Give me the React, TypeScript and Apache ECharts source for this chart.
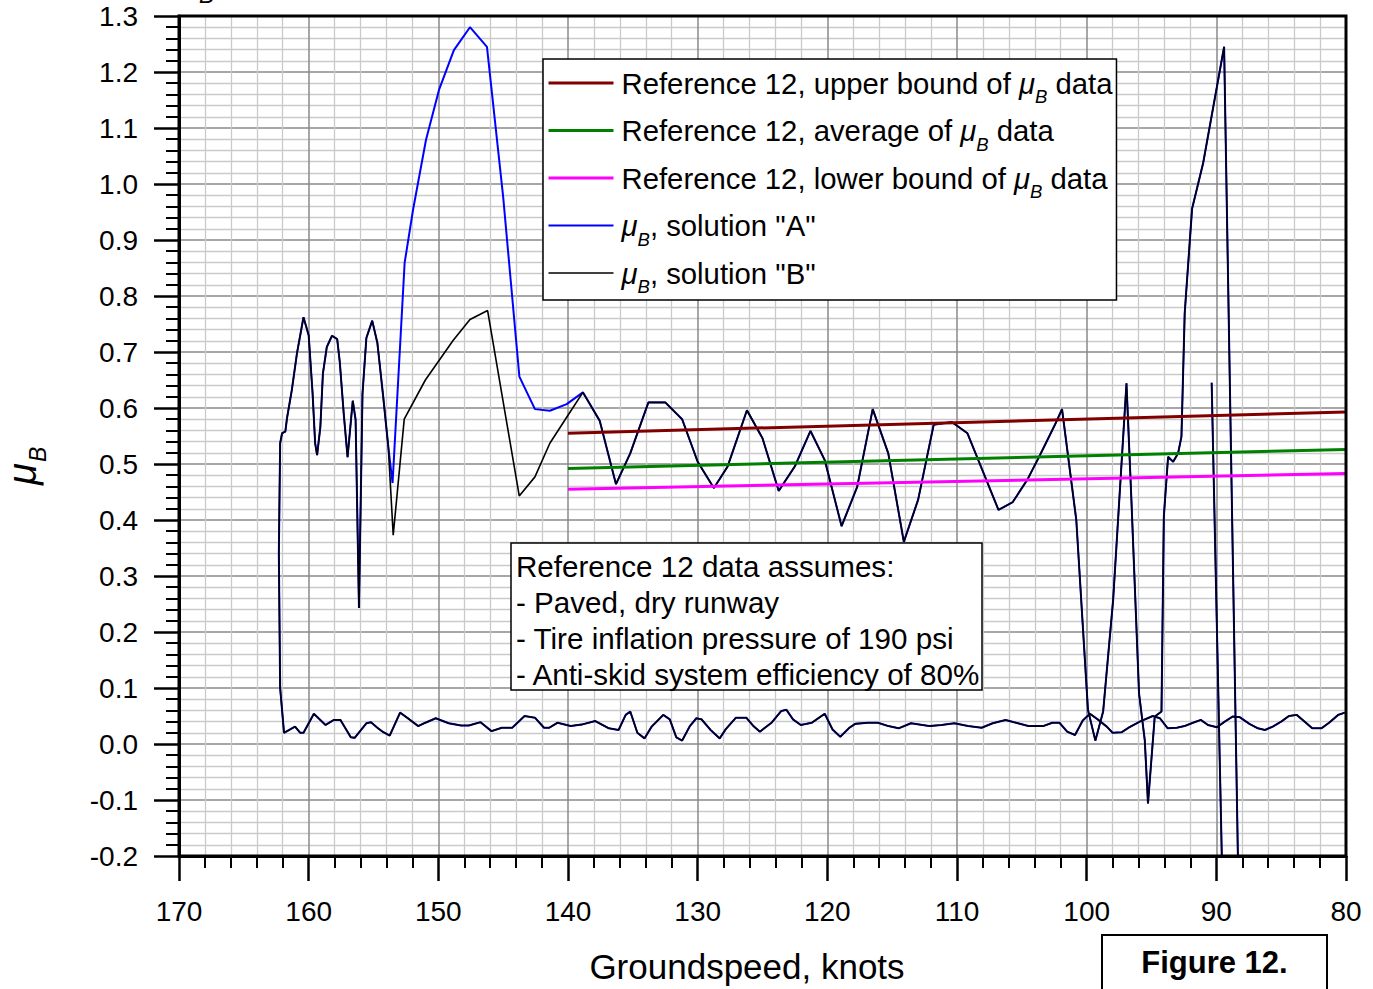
import React, { useEffect, useRef } from "react";
import * as echarts from "echarts";

const FONT = "'Liberation Sans', Arial, Helvetica, sans-serif";
const WIDTH = 1373;
const HEIGHT = 989;

// Plot frame (pixels)
const PLOT = { left: 179, top: 16, width: 1167, height: 840 };

// Axis ranges
const SPEED_MIN = 80;
const SPEED_MAX = 170;
const SPEED_STEP = 10;
const MU_MIN = -0.2;
const MU_MAX = 1.3;
const MU_STEP = 0.1;

// Series names
const NAME_UPPER = "Reference 12, upper bound of μB data";
const NAME_AVERAGE = "Reference 12, average of μB data";
const NAME_LOWER = "Reference 12, lower bound of μB data";
const NAME_A = 'μB, solution "A"';
const NAME_B = 'μB, solution "B"';

// Reference 12 braking friction bounds vs groundspeed
const refSpeed = [140, 80];
const refUpper = [0.555, 0.593];
const refAverage = [0.492, 0.526];
const refLower = [0.455, 0.483];

// Ground roll before brake application: [groundspeed, muB]
const rollPoints: [number, number][] = [
  [80.1, 0.056], [80.6, 0.052], [81.3, 0.038], [81.9, 0.028], [82.6, 0.028],
  [83.2, 0.04], [83.8, 0.052], [84.4, 0.05], [85.0, 0.04], [85.65, 0.031],
  [86.25, 0.025], [86.8, 0.028], [87.45, 0.036], [88.2, 0.048], [88.75, 0.049],
  [89.35, 0.04], [89.95, 0.03], [90.65, 0.034], [91.2, 0.043], [91.8, 0.038],
  [92.45, 0.032], [93.05, 0.029], [93.75, 0.028], [94.35, 0.046], [94.9, 0.05],
  [95.9, 0.04], [96.7, 0.03], [97.3, 0.021], [98.0, 0.02], [98.45, 0.031],
  [99.15, 0.044], [99.75, 0.054], [100.3, 0.042], [100.9, 0.016], [101.5, 0.022],
  [102.1, 0.038], [102.65, 0.038], [103.35, 0.032], [104.5, 0.032], [105.3, 0.037],
  [106.25, 0.043], [107.25, 0.037], [108.1, 0.029], [109.15, 0.032], [110.2, 0.037],
  [111.2, 0.034], [112.15, 0.032], [113.55, 0.037], [114.5, 0.028], [115.3, 0.032],
  [116.1, 0.038], [116.85, 0.038], [117.85, 0.036], [118.3, 0.029], [119.0, 0.013],
  [119.6, 0.026], [120.2, 0.054], [121.2, 0.038], [122.05, 0.034], [122.65, 0.044],
  [123.15, 0.061], [123.55, 0.059], [124.3, 0.038], [125.2, 0.022], [125.7, 0.032],
  [126.25, 0.047], [127.05, 0.047], [127.85, 0.026], [128.3, 0.01], [129.0, 0.025],
  [129.7, 0.044], [130.1, 0.046], [130.6, 0.032], [131.2, 0.006], [131.65, 0.012],
  [132.15, 0.044], [132.65, 0.052], [133.55, 0.031], [134.1, 0.01], [134.65, 0.02],
  [135.2, 0.058], [135.55, 0.052], [136.1, 0.025], [136.85, 0.028], [137.9, 0.041],
  [138.9, 0.035], [139.8, 0.032], [140.8, 0.038], [141.45, 0.029], [141.85, 0.029],
  [142.55, 0.047], [143.35, 0.05], [144.3, 0.029], [145.1, 0.029], [145.9, 0.023],
  [146.75, 0.039], [147.65, 0.033], [148.25, 0.033], [149.2, 0.037], [150.2, 0.046],
  [151.0, 0.038], [151.55, 0.032], [152.35, 0.046], [152.95, 0.056], [153.75, 0.015],
  [154.3, 0.022], [154.7, 0.029], [155.2, 0.039], [155.55, 0.037], [156.45, 0.011],
  [156.75, 0.012], [157.55, 0.043], [158.05, 0.043], [158.7, 0.034], [159.6, 0.054],
  [160.4, 0.02], [160.65, 0.02], [161.05, 0.031], [161.9, 0.02],
];

// Braking, first part (both solutions)
const brakeStartPoints: [number, number][] = [
  [162.2, 0.1], [162.3, 0.34], [162.2, 0.537], [162.05, 0.555], [161.8, 0.558],
  [161.67, 0.582], [161.3, 0.632], [160.9, 0.698], [160.4, 0.762], [160.0, 0.73],
  [159.7, 0.627], [159.5, 0.537], [159.35, 0.516], [159.1, 0.566], [158.9, 0.662],
  [158.6, 0.709], [158.2, 0.729], [157.8, 0.723], [157.6, 0.682], [157.3, 0.591],
  [157.0, 0.512], [156.6, 0.613], [156.38, 0.579], [156.12, 0.243], [155.85, 0.625],
  [155.55, 0.725], [155.1, 0.756], [154.7, 0.716], [154.25, 0.62], [153.86, 0.531],
];

// Braking, middle part where the two solutions differ
const solutionAMidPoints: [number, number][] = [
  [153.53, 0.466], [152.6, 0.859], [151.95, 0.954], [150.95, 1.079], [149.95, 1.168],
  [148.8, 1.239], [147.56, 1.28], [146.25, 1.245], [145.0, 0.977], [143.75, 0.656],
  [142.55, 0.598], [141.4, 0.595], [140.1, 0.607],
];
const solutionBMidPoints: [number, number][] = [
  [153.48, 0.373], [153.17, 0.448], [152.63, 0.58], [151.0, 0.65], [150.0, 0.683],
  [148.85, 0.721], [147.56, 0.758], [146.2, 0.774], [143.76, 0.443], [142.55, 0.477],
  [141.4, 0.537], [140.0, 0.587],
];

// Braking, last part (both solutions)
const brakeEndPoints: [number, number][] = [
  [138.85, 0.628], [137.55, 0.577], [136.3, 0.464], [135.2, 0.519], [133.8, 0.61],
  [132.5, 0.61], [131.2, 0.58], [130.0, 0.504], [128.75, 0.457], [127.7, 0.495],
  [126.2, 0.596], [125.0, 0.546], [123.75, 0.452], [122.5, 0.496], [121.3, 0.559],
  [120.2, 0.507], [118.9, 0.389], [117.7, 0.459], [116.5, 0.598], [115.3, 0.519],
  [114.1, 0.361], [113.0, 0.436], [111.8, 0.57], [110.4, 0.575], [109.2, 0.555],
  [106.8, 0.418], [105.7, 0.432], [104.55, 0.473], [103.6, 0.516], [102.45, 0.57],
  [101.9, 0.598], [100.8, 0.4], [99.9, 0.061], [99.33, 0.006], [98.73, 0.058],
  [97.96, 0.257], [96.93, 0.644], [96.55, 0.436], [95.96, 0.09], [95.52, 0.007],
  [95.27, -0.106], [94.75, 0.049], [94.23, 0.058], [94.05, 0.406], [93.72, 0.513],
  [93.33, 0.504], [92.95, 0.519], [92.69, 0.549], [92.44, 0.769], [91.87, 0.956],
  [91.02, 1.037], [89.4, 1.245], [87.75, -1.0], [88.84, -1.0], [90.36, 0.645],
];

// Note box
const NOTE_LINES = [
  "Reference 12 data assumes:",
  "- Paved, dry runway",
  "- Tire inflation pressure of 190 psi",
  "- Anti-skid system efficiency of 80%",
];
const X_TITLE = "Groundspeed, knots";
const FIGURE_LABEL = "Figure 12.";
const MU = "μ";
const MU_SUB = "B";

const zip = (xs: number[], ys: number[]) => xs.map((x, i) => [x, ys[i]]);

// μ followed by an italic subscript B, as rich text; the subscript sits at the
// bottom of a tall line box, which drops it below the main baseline
const muRichStyles = (size: number, subSize: number, lineH: number) => ({
  mu: { fontStyle: "italic", fontSize: size, fontFamily: FONT, lineHeight: lineH, color: "#000" },
  sub: {
    fontStyle: "italic",
    fontSize: subSize,
    fontFamily: FONT,
    verticalAlign: "bottom",
    color: "#000",
  },
});
const richMu = (s: string) => s.replace(/μB/g, "{mu|μ}{sub|B}");

// A single italic glyph run placed by its left/middle anchor
const italicText = (text: string, size: number, x: number, y: number, rotation = 0) => ({
  type: "text",
  z: 21,
  silent: true,
  x,
  y,
  rotation,
  style: {
    text,
    fontSize: size,
    fontStyle: "italic",
    fontFamily: FONT,
    fill: "#000",
    align: "left",
    verticalAlign: "middle",
  },
});

export default function App() {
  const ref = useRef<HTMLDivElement>(null);

  useEffect(() => {
    if (!ref.current) return;
    const chart = echarts.init(ref.current, null, {
      renderer: "svg",
      width: WIDTH,
      height: HEIGHT,
    });

    const solutionA = [...rollPoints, ...brakeStartPoints, ...solutionAMidPoints, ...brakeEndPoints];
    const solutionB = [...rollPoints, ...brakeStartPoints, ...solutionBMidPoints, ...brakeEndPoints];

    const axisCommon = {
      axisLine: { show: true, onZero: false, lineStyle: { color: "#000", width: 3 } },
      axisTick: { show: true, length: 25, lineStyle: { color: "#000", width: 2.5 } },
      minorTick: { show: true, splitNumber: 5, length: 12, lineStyle: { color: "#000", width: 2 } },
      splitLine: { show: true, lineStyle: { color: "#8a8a8a", width: 1.5 } },
      minorSplitLine: { show: true, lineStyle: { color: "#cacaca", width: 1.3 } },
    };

    const refLine = (name: string, ys: number[], color: string) => ({
      name,
      type: "line",
      data: zip(refSpeed, ys),
      symbol: "none",
      z: 3,
      silent: true,
      lineStyle: { color, width: 3 },
      itemStyle: { color },
    });

    chart.setOption({
      animation: false,
      backgroundColor: "#fff",
      textStyle: { fontFamily: FONT },
      grid: { ...PLOT, containLabel: false },
      xAxis: {
        type: "value",
        min: SPEED_MIN,
        max: SPEED_MAX,
        interval: SPEED_STEP,
        inverse: true,
        ...axisCommon,
        axisLabel: { fontSize: 28, fontFamily: FONT, color: "#000", margin: 41 },
      },
      yAxis: {
        type: "value",
        min: MU_MIN,
        max: MU_MAX,
        interval: MU_STEP,
        ...axisCommon,
        minorTick: { show: true, splitNumber: 5, length: 13, lineStyle: { color: "#000", width: 2 } },
        axisLabel: {
          fontSize: 28,
          fontFamily: FONT,
          color: "#000",
          margin: 41,
          formatter: (v: number) => (Math.round(v * 10) / 10).toFixed(1),
        },
      },
      legend: {
        show: true,
        orient: "vertical",
        left: 543,
        top: 59,
        backgroundColor: "#fff",
        borderColor: "#000",
        borderWidth: 1.5,
        borderRadius: 0,
        padding: [1, 4, 4, 4],
        itemGap: 1.5,
        itemWidth: 65,
        itemHeight: 14,
        selectedMode: false,
        lineStyle: { width: "inherit" },
        itemStyle: { opacity: 0 },
        data: [NAME_UPPER, NAME_AVERAGE, NAME_LOWER, NAME_A, NAME_B],
        formatter: (name: string) => richMu(name),
        textStyle: {
          fontSize: 29.3,
          fontFamily: FONT,
          color: "#000",
          lineHeight: 46,
          padding: [0, 0, 0, 3],
          rich: muRichStyles(29.3, 18.5, 46),
        },
      },
      series: [
        refLine(NAME_UPPER, refUpper, "#800000"),
        refLine(NAME_AVERAGE, refAverage, "#008000"),
        refLine(NAME_LOWER, refLower, "#ff00ff"),
        {
          name: NAME_A,
          type: "line",
          data: solutionA,
          symbol: "none",
          silent: true,
          z: 2,
          lineStyle: { color: "#0000ff", width: 2 },
          itemStyle: { color: "#0000ff" },
        },
        {
          name: NAME_B,
          type: "line",
          data: solutionB,
          symbol: "none",
          silent: true,
          z: 2,
          lineStyle: { color: "#000000", width: 1.6 },
          itemStyle: { color: "#000000" },
        },
      ],
      graphic: [
        {
          type: "rect",
          z: 15,
          silent: true,
          shape: { x: PLOT.left, y: PLOT.top, width: PLOT.width, height: PLOT.height },
          style: { fill: "none", stroke: "#000", lineWidth: 3 },
        },
        {
          type: "rect",
          z: 20,
          silent: true,
          shape: { x: 511, y: 543, width: 471, height: 147 },
          style: { fill: "#fff", stroke: "#000", lineWidth: 1.5 },
        },
        {
          type: "text",
          z: 21,
          silent: true,
          x: 516,
          y: 548,
          style: {
            text: NOTE_LINES.join("\n"),
            fontSize: 29.6,
            fontFamily: FONT,
            fill: "#000",
            lineHeight: 36,
            align: "left",
            verticalAlign: "top",
          },
        },
        {
          type: "text",
          z: 21,
          silent: true,
          x: 747,
          y: 966,
          style: {
            text: X_TITLE,
            fontSize: 35,
            fontFamily: FONT,
            fill: "#000",
            align: "center",
            verticalAlign: "middle",
          },
        },
        // y-axis title, reading upwards
        italicText(MU, 40, 22, 485, Math.PI / 2),
        italicText(MU_SUB, 23, 38, 462, Math.PI / 2),
        // symbol heading above the plot, running off the top edge
        italicText(MU, 40, 176, -27),
        italicText(MU_SUB, 23, 199, -5),
        {
          type: "rect",
          z: 20,
          silent: true,
          shape: { x: 1102, y: 935, width: 225, height: 80 },
          style: { fill: "#fff", stroke: "#000", lineWidth: 2 },
        },
        {
          type: "text",
          z: 21,
          silent: true,
          x: 1214.5,
          y: 962,
          style: {
            text: FIGURE_LABEL,
            fontSize: 31,
            fontWeight: "bold",
            fontFamily: FONT,
            fill: "#000",
            align: "center",
            verticalAlign: "middle",
          },
        },
      ],
    });

    return () => chart.dispose();
  }, []);

  return (
    <div
      ref={ref}
      style={{ position: "fixed", left: 0, top: 0, width: WIDTH, height: HEIGHT, background: "#fff" }}
    />
  );
}
